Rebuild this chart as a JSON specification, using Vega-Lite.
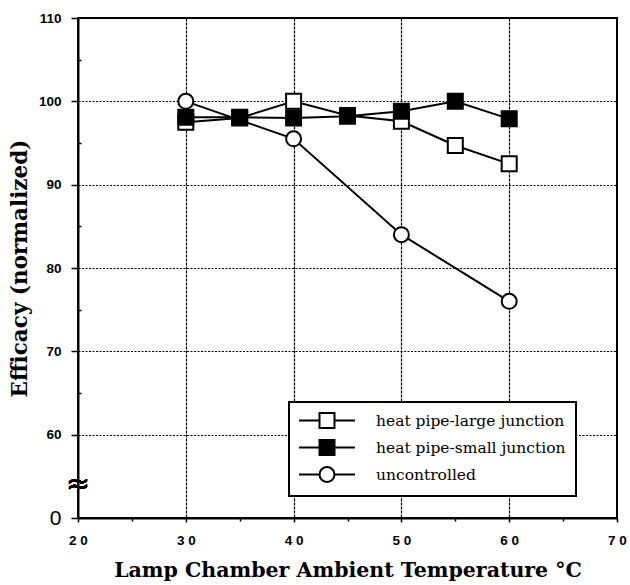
{
  "$schema": "https://vega.github.io/schema/vega-lite/v6.json",
  "width": 539,
  "height": 500,
  "autosize": {"type": "none"},
  "padding": {"left": 78, "top": 18, "right": 13, "bottom": 67},
  "background": "white",
  "config": {
    "view": {"stroke": "black", "strokeWidth": 2},
    "axis": {
      "domainColor": "black",
      "domainWidth": 2,
      "tickColor": "black",
      "tickWidth": 1.5,
      "gridColor": "black",
      "labelColor": "black",
      "titleColor": "black",
      "labelFont": "Liberation Sans",
      "labelFontWeight": "bold",
      "labelFontSize": 13.5,
      "titleFont": "DejaVu Serif",
      "titleFontWeight": "bold"
    },
    "legend": {"strokeWidth": 2}
  },
  "data": {
    "values": [
      {"temp": 30, "efficacy": 97.5, "series": "heat pipe-large junction"},
      {"temp": 35, "efficacy": 98.0, "series": "heat pipe-large junction"},
      {"temp": 40, "efficacy": 100.0, "series": "heat pipe-large junction"},
      {"temp": 45, "efficacy": 98.3, "series": "heat pipe-large junction"},
      {"temp": 50, "efficacy": 97.6, "series": "heat pipe-large junction"},
      {"temp": 55, "efficacy": 94.7, "series": "heat pipe-large junction"},
      {"temp": 60, "efficacy": 92.5, "series": "heat pipe-large junction"},
      {"temp": 30, "efficacy": 98.1, "series": "heat pipe-small junction"},
      {"temp": 35, "efficacy": 98.1, "series": "heat pipe-small junction"},
      {"temp": 40, "efficacy": 98.0, "series": "heat pipe-small junction"},
      {"temp": 45, "efficacy": 98.2, "series": "heat pipe-small junction"},
      {"temp": 50, "efficacy": 98.8, "series": "heat pipe-small junction"},
      {"temp": 55, "efficacy": 100.0, "series": "heat pipe-small junction"},
      {"temp": 60, "efficacy": 97.9, "series": "heat pipe-small junction"},
      {"temp": 30, "efficacy": 100.0, "series": "uncontrolled"},
      {"temp": 40, "efficacy": 95.5, "series": "uncontrolled"},
      {"temp": 50, "efficacy": 84.0, "series": "uncontrolled"},
      {"temp": 60, "efficacy": 76.0, "series": "uncontrolled"}
    ]
  },
  "encoding": {
    "x": {
      "field": "temp",
      "type": "quantitative",
      "scale": {"domain": [20, 70], "nice": false, "zero": false},
      "axis": {
        "values": [20, 25, 30, 35, 40, 45, 50, 55, 60, 65, 70],
        "title": "Lamp Chamber Ambient Temperature °C",
        "titleFontSize": 20.5,
        "titlePadding": 14,
        "labelExpr": "datum.value % 10 == 0 ? join(split(datum.label, ''), ' ') : ''",
        "labelPadding": 11,
        "labelFlush": false,
        "tickSize": {"condition": {"test": "datum.value % 10 == 0", "value": 4}, "value": 3},
        "grid": true,
        "gridDash": [3, 1],
        "gridWidth": 1.2,
        "gridOpacity": {"condition": {"test": "datum.value % 10 == 0 && datum.value > 20 && datum.value < 70", "value": 1}, "value": 0}
      }
    },
    "y": {
      "field": "efficacy",
      "type": "quantitative",
      "scale": {"domain": [50, 110], "nice": false, "zero": false},
      "axis": {
        "values": [50, 60, 65, 70, 75, 80, 85, 90, 95, 100, 105, 110],
        "title": "Efficacy (normalized)",
        "titleFontSize": 21.5,
        "titlePadding": 7,
        "labelExpr": "datum.value == 50 ? '0' : (datum.value % 10 == 0 ? datum.label : '')",
        "labelFontSize": {"condition": {"test": "datum.value == 50", "value": 21}, "value": 13.5},
        "labelFontWeight": {"condition": {"test": "datum.value == 50", "value": "normal"}, "value": "bold"},
        "labelPadding": 10,
        "labelFlush": false,
        "tickSize": {"condition": {"test": "datum.value % 10 == 0", "value": 7}, "value": -3},
        "grid": true,
        "gridDash": [2, 1.5],
        "gridWidth": 1.2,
        "gridOpacity": {"condition": {"test": "datum.value >= 60 && datum.value <= 100 && datum.value % 10 == 0", "value": 1}, "value": 0}
      }
    }
  },
  "layer": [
    {
      "mark": {"type": "line", "color": "black", "strokeWidth": 2},
      "encoding": {"detail": {"field": "series"}}
    },
    {
      "mark": {"type": "point", "filled": true, "stroke": "black", "strokeWidth": 2, "size": 225, "opacity": 1},
      "encoding": {
        "shape": {
          "field": "series",
          "scale": {"domain": ["heat pipe-large junction", "heat pipe-small junction", "uncontrolled"], "range": ["square", "square", "circle"]},
          "legend": null
        },
        "fill": {
          "field": "series",
          "scale": {"domain": ["heat pipe-large junction", "heat pipe-small junction", "uncontrolled"], "range": ["white", "black", "white"]},
          "legend": null
        }
      }
    },
    {
      "transform": [{"filter": "false"}],
      "mark": {"type": "point", "filled": true, "stroke": "black", "strokeWidth": 2, "size": 225, "opacity": 1},
      "encoding": {
        "shape": {
          "field": "series",
          "scale": {
            "domain": ["heat pipe-large junction", "heat pipe-small junction", "uncontrolled"],
            "range": [
              "M-3.73,0H-1M1,0H3.73M-1,-1H1V1H-1Z",
              "M-3.73,0H-1M1,0H3.73M-1,-1H1V1H-1Z",
              "M-3.73,0H-1M1,0H3.73M-1,0A1,1 0 1,1 1,0A1,1 0 1,1 -1,0Z"
            ]
          },
          "legend": {
            "title": null,
            "orient": "none",
            "legendX": 211,
            "legendY": 384,
            "padding": 10,
            "symbolOffset": 19.5,
            "labelOffset": 40.5,
            "rowPadding": 4,
            "symbolSize": 225,
            "symbolStrokeColor": "black",
            "symbolStrokeWidth": 2,
            "symbolOpacity": 1,
            "labelFont": "DejaVu Serif",
            "labelFontSize": 15.5,
            "labelColor": "black",
            "labelLimit": 300,
            "labelExpr": "datum.label + '\u00a0\u00a0\u00a0\u00a0\u00a0'",
            "strokeColor": "black",
            "fillColor": "white",
            "encode": {"symbols": {"update": {"stroke": {"value": "black"}, "strokeWidth": {"value": 2}, "opacity": {"value": 1}}}}
          }
        },
        "fill": {
          "field": "series",
          "scale": {"domain": ["heat pipe-large junction", "heat pipe-small junction", "uncontrolled"], "range": ["white", "black", "white"]},
          "legend": {
            "title": null,
            "orient": "none",
            "legendX": 211,
            "legendY": 384,
            "padding": 10,
            "symbolOffset": 19.5,
            "labelOffset": 40.5,
            "rowPadding": 4,
            "symbolSize": 225,
            "symbolStrokeColor": "black",
            "symbolStrokeWidth": 2,
            "symbolOpacity": 1,
            "labelFont": "DejaVu Serif",
            "labelFontSize": 15.5,
            "labelColor": "black",
            "labelLimit": 300,
            "labelExpr": "datum.label + '\u00a0\u00a0\u00a0\u00a0\u00a0'",
            "strokeColor": "black",
            "fillColor": "white",
            "encode": {"symbols": {"update": {"stroke": {"value": "black"}, "strokeWidth": {"value": 2}, "opacity": {"value": 1}}}}
          }
        }
      }
    },
    {
      "mark": {"type": "text", "text": "≈", "font": "DejaVu Sans", "fontSize": 28, "color": "black", "align": "center", "baseline": "middle"},
      "encoding": {"x": {"datum": 20}, "y": {"datum": 54}}
    }
  ],
  "resolve": {"scale": {"shape": "independent", "fill": "independent"}}
}
